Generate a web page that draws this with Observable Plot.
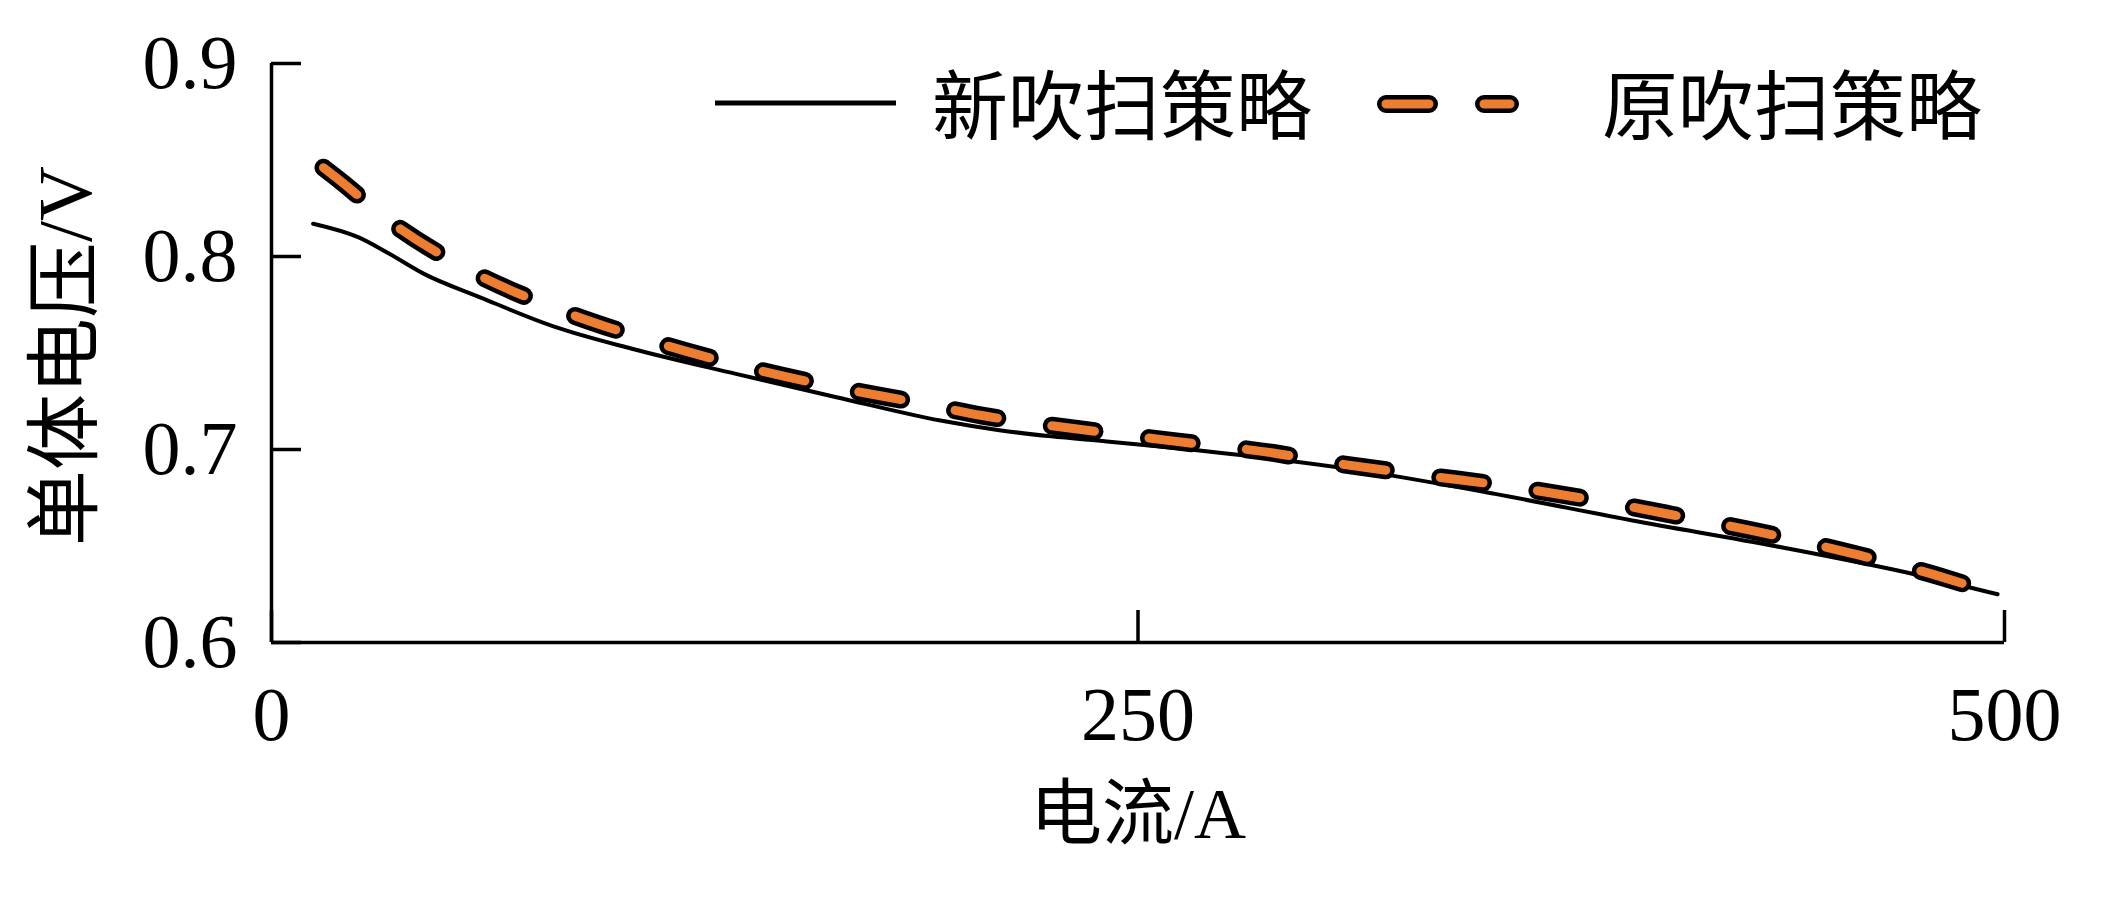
<!DOCTYPE html>
<html><head><meta charset="utf-8">
<script src="https://cdn.jsdelivr.net/npm/d3@7"></script>
<script src="https://cdn.jsdelivr.net/npm/@observablehq/plot@0.6"></script>
<style>
html,body{margin:0;padding:0;background:#fff;}
#wrap{position:relative;width:2102px;height:897px;}
#legend{position:absolute;left:0;top:0;pointer-events:none;}
</style></head><body><div id="wrap"></div>
<script>
const seriesNames = ["新吹扫策略", "原吹扫策略"];
const newCurrent = [12, 25, 34, 44, 60, 82, 104, 134, 163, 193, 210, 225, 241, 281, 312, 353, 393, 434, 474, 498];
const newVoltage = [0.817, 0.810, 0.8014, 0.791, 0.779, 0.7634, 0.7522, 0.7392, 0.7271, 0.715, 0.710, 0.7068, 0.7042, 0.6969, 0.6897, 0.677, 0.6631, 0.6499, 0.6354, 0.6250];
const oldCurrent = [15, 20, 33, 56, 82, 106, 133, 160, 188, 205, 233, 261, 289, 304, 331, 360, 387, 404, 433, 455, 482, 489];
const oldVoltage = [0.846, 0.839, 0.8197, 0.7938, 0.773, 0.7582, 0.7444, 0.7332, 0.7237, 0.7176, 0.7105, 0.7042, 0.6982, 0.6937, 0.687, 0.6801, 0.672, 0.6662, 0.6558, 0.6466, 0.6339, 0.630];
const xTicks = [0, 250, 500];
const yTicks = [0.6, 0.7, 0.8, 0.9];
const xTitle = "电流/A";
const yTitle = "单体电压/V";

const FONT = "'Liberation Serif','Noto Sans CJK SC',serif";
const ORANGE = "#ED7D31";
const DASH = "43,55";

const newData = newCurrent.map((x, i) => ({x, y: newVoltage[i]}));
const oldData = oldCurrent.map((x, i) => ({x, y: oldVoltage[i]}));

const chart = Plot.plot({
  width: 2102, height: 897,
  marginLeft: 271, marginRight: 98, marginTop: 63, marginBottom: 255,
  style: {fontFamily: FONT, background: "white", color: "black", overflow: "visible"},
  x: {domain: [0, 500]},
  y: {domain: [0.6, 0.9]},
  marks: [
    Plot.axisY(yTicks, {tickSize: -30, tickPadding: 64, fontSize: 76, strokeWidth: 3.5, tickFormat: d3.format(".1f"), label: null}),
    Plot.axisX(xTicks, {tickSize: -32, tickPadding: 76, fontSize: 76, strokeWidth: 3.5, tickFormat: d3.format("d"), label: null}),
    Plot.ruleX([0], {strokeWidth: 3.5}),
    Plot.ruleY([0.6], {strokeWidth: 3.5}),
    Plot.line(newData, {x: "x", y: "y", stroke: "black", strokeWidth: 4, curve: "monotone-x"}),
    Plot.line(oldData, {x: "x", y: "y", stroke: "black", strokeWidth: 18, strokeDasharray: DASH, strokeLinecap: "round", curve: "monotone-x"}),
    Plot.line(oldData, {x: "x", y: "y", stroke: ORANGE, strokeWidth: 9, strokeDasharray: DASH, strokeLinecap: "round", curve: "monotone-x"}),
    Plot.text([xTitle], {text: d => d, frameAnchor: "bottom", textAnchor: "middle", dy: 195, fontSize: 72}),
    Plot.text([yTitle], {text: d => d, frameAnchor: "left", textAnchor: "middle", rotate: -90, dx: -205, dy: 3, fontSize: 76})
  ]
});
const wrap = document.getElementById("wrap");
wrap.appendChild(chart);

// Legend overlay
const lg = d3.create("svg").attr("id", "legend").attr("width", 2102).attr("height", 200)
  .style("font-family", FONT);
lg.append("line").attr("x1", 715).attr("x2", 896).attr("y1", 103).attr("y2", 103)
  .attr("stroke", "black").attr("stroke-width", 5);
lg.append("text").attr("x", 932).attr("y", 134).attr("font-size", 76).text(seriesNames[0]);
lg.append("line").attr("x1", 1386).attr("x2", 1510).attr("y1", 104).attr("y2", 104)
  .attr("stroke", "black").attr("stroke-width", 18).attr("stroke-linecap", "round").attr("stroke-dasharray", DASH);
lg.append("line").attr("x1", 1386).attr("x2", 1510).attr("y1", 104).attr("y2", 104)
  .attr("stroke", ORANGE).attr("stroke-width", 9).attr("stroke-linecap", "round").attr("stroke-dasharray", DASH);
lg.append("text").attr("x", 1602).attr("y", 134).attr("font-size", 76).text(seriesNames[1]);
wrap.appendChild(lg.node());
</script>
</body></html>
